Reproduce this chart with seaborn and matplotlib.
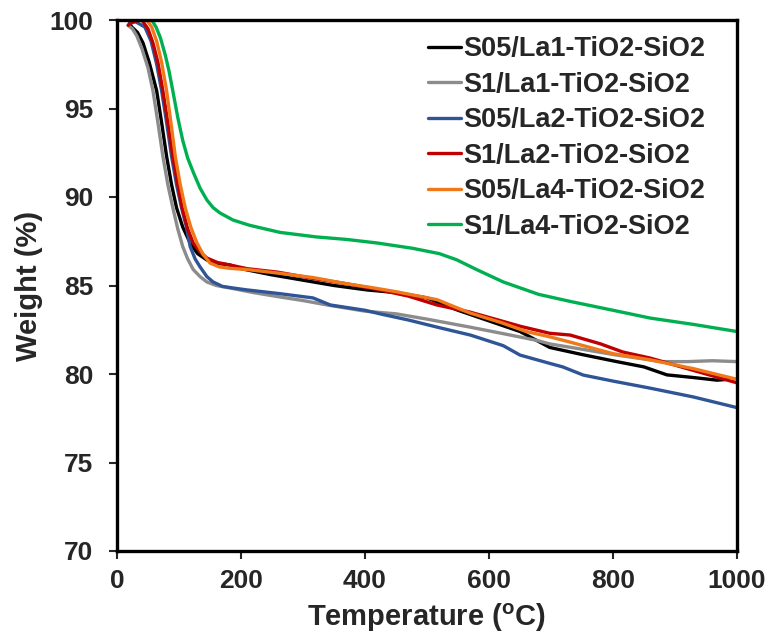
import matplotlib
matplotlib.use("Agg")
import matplotlib.pyplot as plt
import seaborn as sns
import pandas as pd

# ---- data ----
black_T = [20, 24, 33, 42, 52, 64, 72, 80, 88, 96, 106, 118, 130, 145, 162, 182, 200, 250, 300, 350, 403, 450, 500, 550, 600, 650, 698, 750, 806, 850, 887, 930, 968, 985]
black_W = [99.8, 99.6, 99.3, 98.7, 97.6, 96.0, 94.2, 92.3, 90.7, 89.4, 88.3, 87.4, 86.8, 86.44, 86.25, 86.16, 85.95, 85.6, 85.3, 85.0, 84.75, 84.6, 84.3, 83.6, 83.0, 82.4, 81.5, 81.1, 80.7, 80.4, 79.95, 79.8, 79.65, 79.7]

gray_T = [18, 25, 32, 40, 50, 58, 66, 74, 82, 90, 98, 106, 114, 123, 134, 145, 160, 182, 220, 263, 300, 339, 400, 450, 500, 569, 620, 677, 698, 750, 806, 850, 876, 920, 960, 1000]
gray_W = [99.7, 99.5, 99.1, 98.4, 97.3, 96.0, 94.2, 92.3, 90.7, 89.4, 88.2, 87.2, 86.5, 85.9, 85.5, 85.2, 85.0, 84.86, 84.6, 84.35, 84.15, 83.9, 83.55, 83.4, 83.1, 82.65, 82.3, 81.9, 81.7, 81.4, 81.07, 80.85, 80.7, 80.7, 80.75, 80.7]

blue_T = [20, 30, 45, 55, 64, 72, 80, 88, 96, 104, 112, 118, 126, 134, 145, 155, 170, 187, 210, 260, 316, 344, 400, 424, 470, 516, 570, 623, 650, 698, 719, 752, 800, 860, 930, 1000]
blue_W = [99.8, 99.9, 99.6, 98.8, 97.5, 96.0, 94.2, 92.3, 90.7, 89.4, 88.3, 87.2, 86.5, 86.05, 85.5, 85.2, 84.95, 84.86, 84.75, 84.55, 84.3, 83.9, 83.6, 83.4, 83.05, 82.65, 82.2, 81.6, 81.07, 80.6, 80.4, 79.94, 79.6, 79.2, 78.7, 78.1]

red_T = [18, 25, 40, 50, 58, 66, 74, 82, 90, 98, 105, 114, 123, 134, 145, 162, 182, 210, 260, 316, 370, 424, 470, 516, 569, 620, 650, 698, 731, 780, 816, 860, 900, 950, 1000]
red_W = [99.7, 99.9, 100, 99.5, 98.7, 97.6, 96.0, 94.2, 92.3, 90.7, 89.4, 88.2, 87.4, 86.9, 86.55, 86.3, 86.16, 85.95, 85.75, 85.4, 85.1, 84.75, 84.4, 83.9, 83.5, 83.0, 82.7, 82.3, 82.2, 81.7, 81.24, 80.9, 80.5, 80.0, 79.5]

orange_T = [18, 30, 48, 56, 64, 72, 80, 87, 94, 102, 110, 119, 129, 139, 150, 165, 182, 210, 260, 316, 370, 408, 450, 516, 569, 620, 660, 698, 731, 800, 860, 930, 1000]
orange_W = [100, 100, 100, 99.6, 98.8, 97.6, 96.0, 94.2, 92.3, 90.7, 89.4, 88.3, 87.4, 86.75, 86.27, 86.05, 85.97, 85.9, 85.7, 85.45, 85.1, 84.9, 84.65, 84.2, 83.45, 82.9, 82.4, 82.1, 81.8, 81.15, 80.8, 80.3, 79.7]

green_T = [18, 40, 56, 63, 70, 78, 84, 90, 98, 106, 114, 123, 134, 145, 155, 166, 187, 214, 263, 320, 371, 420, 477, 520, 548, 580, 623, 680, 731, 800, 860, 930, 1000]
green_W = [100, 100, 100, 99.6, 99.0, 98.0, 97.1, 96.0, 94.5, 93.2, 92.2, 91.4, 90.5, 89.83, 89.4, 89.1, 88.7, 88.4, 88.0, 87.75, 87.6, 87.4, 87.1, 86.8, 86.45, 85.9, 85.2, 84.5, 84.1, 83.6, 83.16, 82.8, 82.4]

labels = ["S05/La1-TiO2-SiO2", "S1/La1-TiO2-SiO2", "S05/La2-TiO2-SiO2",
          "S1/La2-TiO2-SiO2", "S05/La4-TiO2-SiO2", "S1/La4-TiO2-SiO2"]
colors = ["#000000", "#8C8C8C", "#2F5597", "#C00000", "#F07818", "#00B050"]
x_ticks = [0, 200, 400, 600, 800, 1000]
y_ticks = [70, 75, 80, 85, 90, 95, 100]

series = [(black_T, black_W), (gray_T, gray_W), (blue_T, blue_W),
          (red_T, red_W), (orange_T, orange_W), (green_T, green_W)]

frames = []
for (t, w), lab in zip(series, labels):
    frames.append(pd.DataFrame({"Temperature": t, "Weight": w, "Sample": lab}))
df = pd.concat(frames, ignore_index=True)

sns.set_style("ticks")
plt.rcParams["font.family"] = ["Liberation Sans", "DejaVu Sans"]
plt.rcParams["font.weight"] = "bold"
plt.rcParams["mathtext.fontset"] = "custom"
plt.rcParams["mathtext.rm"] = "Liberation Sans:bold"
plt.rcParams["mathtext.bf"] = "Liberation Sans:bold"

fig = plt.figure(figsize=(7.68, 6.39), dpi=100)
ax = fig.add_axes([117/768, 1 - 551/639, 620/768, 531/639])

sns.lineplot(data=df, x="Temperature", y="Weight", hue="Sample",
             hue_order=labels, palette=colors, sort=False, estimator=None,
             linewidth=2.4, ax=ax)

ax.set_xlim(0, 1000)
ax.set_ylim(70, 100)
ax.set_xticks(x_ticks)
ax.set_yticks(y_ticks)
ax.tick_params(axis="both", direction="out", length=6, width=1.5,
               labelsize=19, pad=7)
ax.tick_params(axis="y", pad=11)
for lab in ax.get_xticklabels() + ax.get_yticklabels():
    lab.set_fontweight("bold")
for sp in ax.spines.values():
    sp.set_visible(True)
    sp.set_linewidth(2.4)
    sp.set_color("black")

ax.set_xlabel(r"Temperature ($^{\mathbf{o}}$C)", fontsize=21, fontweight="bold", labelpad=6)
ax.set_ylabel("Weight (%)", fontsize=21, fontweight="bold", labelpad=5)

leg = ax.legend(loc="upper left", bbox_to_anchor=(0.476, 1.0), frameon=False,
                fontsize=19.5, handlelength=1.2, handletextpad=0.1,
                labelspacing=0.35, borderaxespad=0.2)
for t in leg.get_texts():
    t.set_fontweight("bold")
for h in leg.get_lines():
    h.set_linewidth(2.4)

fig.savefig("out.png", dpi=100)
